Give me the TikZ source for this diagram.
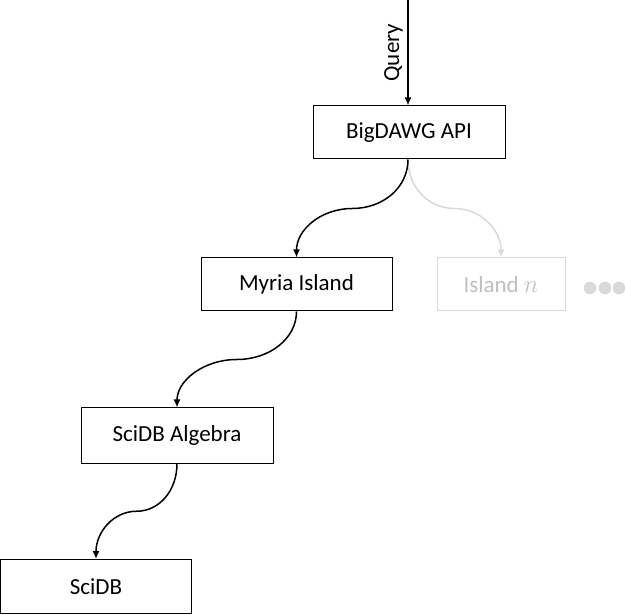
\documentclass[tikz,border=0pt]{standalone}
\usepackage{fontspec}
\setmainfont{Carlito}
\usetikzlibrary{arrows.meta,calc}
\definecolor{lightgr}{HTML}{D9D9D9}
\definecolor{lighttx}{HTML}{BFBFBF}
\begin{document}
\begin{tikzpicture}[x=1pt,y=-1pt,
  box/.style={draw=black,line width=1pt,minimum height=53pt,inner sep=0pt,font=\fontsize{23}{27}\selectfont},
  ghost/.style={box,draw=lightgr,text=lighttx},
  conn/.style={line width=1.5pt,-{Latex[length=8pt,width=7pt]}},
  gconn/.style={conn,draw=lightgr,-{Latex[length=8pt,width=7pt,color=lightgr]}}]
\useasboundingbox (0,0) rectangle (625,615);
\node[box,minimum width=192pt] (big) at (409,132.5) {BigDAWG API};
\node[box,minimum width=191pt] (myria) at (296.5,284.5) {Myria Island};
\node[ghost,minimum width=128pt] (isln) at (501,284.5) {Island $n$};
\node[box,minimum width=192pt,minimum height=55pt] (alg) at (177,435.5) {SciDB Algebra};
\node[box,minimum width=191pt,minimum height=54pt] (scidb) at (96,586.5) {SciDB};
\coordinate (top) at (408,0);
\coordinate (bs) at (big.south -| top);
\draw[conn] (top) -- (big.north -| top) node[midway,left=1pt,rotate=90,anchor=south,font=\fontsize{23}{27}\selectfont] (q) {Query};
\draw[gconn] (bs) .. controls +(0,28) and +(-26,0) .. ($(bs)!0.5!(isln.north)$) .. controls +(26,0) and +(0,-28) .. (isln.north);
\draw[conn] (bs) .. controls +(0,28) and +(31,0) .. ($(bs)!0.5!(myria.north)$) .. controls +(-31,0) and +(0,-28) .. (myria.north);
\draw[conn] (myria.south) .. controls +(0,27) and +(33,0) .. ($(myria.south)!0.5!(alg.north)$) .. controls +(-33,0) and +(0,-27) .. (alg.north);
\draw[conn] (alg.south) .. controls +(0,27) and +(23,0) .. ($(alg.south)!0.5!(scidb.north)$) .. controls +(-23,0) and +(0,-27) .. (scidb.north);
\foreach \i/\xx in {1/590,2/605,3/619} \fill[lightgr] (\xx,288) circle (6.3pt) coordinate (dot\i);
\end{tikzpicture}
\end{document}
